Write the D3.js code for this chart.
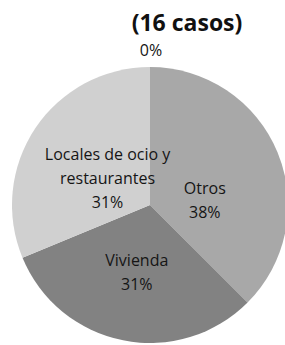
<!DOCTYPE html>
<html>
<head>
<meta charset="utf-8">
<script src="https://cdn.jsdelivr.net/npm/d3@7"></script>
<style>
  body { margin: 0; background: #fff; }
  svg { display: block; }
</style>
</head>
<body>
<div class="chart"></div>
<script>
// 16 casos, clockwise from 12 o'clock
const categories = ["Otros", "Vivienda", "Locales de ocio y restaurantes", "Otro"];
const counts = [6, 5, 5, 0];
const percentLabels = ["38%", "31%", "31%", "0%"];
const labelLines = [["Otros"], ["Vivienda"], ["Locales de ocio y", "restaurantes"], []];

const width = 285, height = 345;
const cx = 150, cy = 205, radius = 138;
const color = ["#a8a8a8", "#828282", "#d0d0d0", "#bdbdbd"];
// label distance as share of radius, plus a small nudge (Excel "best fit" look)
const labelPos = [0.43, 0.49, 0.37, 1.13];
const labelNudge = [[0, 18], [0, 1], [0, 2], [1, 1]];

const data = categories.map((c, i) => ({ name: c, value: counts[i], pct: percentLabels[i], lines: labelLines[i] }));

const svg = d3.select(".chart").append("svg")
  .attr("width", width)
  .attr("height", height);

const bounds = svg.append("g")
  .attr("transform", `translate(${cx},${cy})`);

const pie = d3.pie().value(d => d.value).sort(null);
const arcs = pie(data);

const arc = d3.arc().innerRadius(0).outerRadius(radius);

bounds.selectAll("path")
  .data(arcs)
  .enter()
  .append("path")
  .attr("fill", (d, i) => color[i])
  .attr("d", arc);

const fontFam = "'Open Sans', sans-serif";
const lineH = 24;

arcs.forEach((a, i) => {
  const r = radius * labelPos[i];
  const lab = d3.arc().innerRadius(r).outerRadius(r);
  let [x, y] = lab.centroid(a);
  x += labelNudge[i][0];
  y += labelNudge[i][1];
  const lines = a.data.lines.concat([a.data.pct]);
  const top = y - (lines.length - 1) * lineH / 2;
  const t = bounds.append("text")
    .attr("text-anchor", "middle")
    .attr("font-family", fontFam)
    .attr("font-size", "16px")
    .attr("fill", "#151515");
  lines.forEach((l, k) => {
    t.append("tspan")
      .attr("x", x)
      .attr("y", top + k * lineH)
      .attr("dy", "0.35em")
      .text(l);
  });
});

svg.append("text")
  .attr("x", 187)
  .attr("y", 31)
  .attr("text-anchor", "middle")
  .attr("font-family", fontFam)
  .attr("font-weight", "bold")
  .attr("font-size", "23px")
  .attr("fill", "#111")
  .text("(16 casos)");
</script>
</body>
</html>
